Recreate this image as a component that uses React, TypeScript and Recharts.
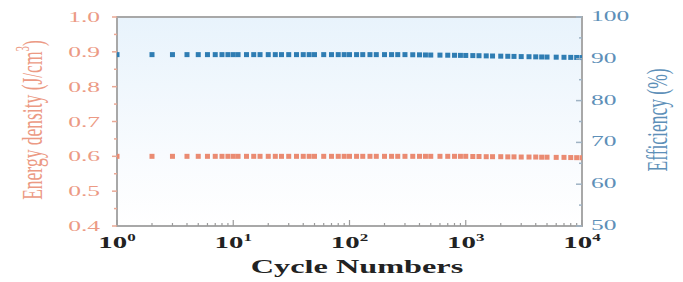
import { LineChart, Line, XAxis, YAxis, ReferenceArea } from 'recharts';

const cycles = [
  1, 2, 3, 4, 5, 6, 7, 8, 9, 10, 11, 13, 15, 17, 20, 23, 26, 30, 35, 40, 45, 50, 60, 70, 80, 90, 100, 115, 130, 150,
  170, 200, 230, 260, 300, 350, 400, 450, 500, 600, 700, 800, 900, 1000, 1150, 1300, 1500, 1700, 2000, 2300, 2600,
  3000, 3500, 4000, 4500, 5000, 6000, 7000, 8000, 9000, 10000,
];
const energyDensity = [
  0.6, 0.6, 0.6, 0.6, 0.6, 0.6, 0.6, 0.6, 0.6, 0.6, 0.6, 0.6, 0.6, 0.6, 0.6, 0.6, 0.6, 0.6, 0.6, 0.6, 0.6, 0.6,
  0.6, 0.6, 0.6, 0.6, 0.6, 0.6, 0.6, 0.6, 0.6, 0.6, 0.6, 0.6, 0.6, 0.6, 0.6, 0.6, 0.6, 0.6, 0.6, 0.6, 0.6, 0.6,
  0.5995, 0.5995, 0.599, 0.599, 0.599, 0.5985, 0.5985, 0.598, 0.598, 0.598, 0.5975, 0.5975, 0.597, 0.597, 0.5965,
  0.5962, 0.596,
];
const efficiency = [
  91, 91, 91, 91, 91, 91, 91, 91, 91, 91, 91, 91, 91, 91, 91, 91, 91, 91, 91, 91, 91, 91, 91, 91, 91, 91, 91, 91,
  91, 91, 91, 91, 91, 91, 91, 90.97, 90.95, 90.92, 90.9, 90.88, 90.86, 90.84, 90.82, 90.8, 90.77, 90.74, 90.7, 90.67,
  90.63, 90.6, 90.57, 90.53, 90.5, 90.47, 90.44, 90.42, 90.39, 90.36, 90.34, 90.32, 90.3,
];
const xTicks = [
  1, 2, 3, 4, 5, 6, 7, 8, 9, 10, 20, 30, 40, 50, 60, 70, 80, 90, 100, 200, 300, 400, 500, 600, 700, 800, 900, 1000,
  2000, 3000, 4000, 5000, 6000, 7000, 8000, 9000, 10000,
];
const energyTicks = [0.4, 0.45, 0.5, 0.55, 0.6, 0.65, 0.7, 0.75, 0.8, 0.85, 0.9, 0.95, 1.0];
const effTicks = [50, 55, 60, 65, 70, 75, 80, 85, 90, 95, 100];

const data = cycles.map((c, i) => ({ cycle: c, energy: energyDensity[i], eff: efficiency[i] }));

const ORANGE = '#ea8b72';
const BLUE = '#2f7db3';
const FONT = '"Liberation Serif", "Times New Roman", serif';
const SX = 1.7;

const SquareDot = (props: any) => {
  const { cx, cy, fill } = props;
  if (cx == null || cy == null) return null;
  return <rect x={cx - 2.5} y={cy - 2.5} width={5} height={5} fill={fill} />;
};

const LeftTick = (props: any) => {
  const { x, y, payload } = props;
  const v = payload.value;
  const major = Math.abs(v * 10 - Math.round(v * 10)) < 1e-6;
  return (
    <g>
      <line x1={x} x2={x - (major ? 5 : 3)} y1={y} y2={y} stroke="#e9a895" strokeWidth={1.5} />
      {major && (
        <g transform={`translate(${x - 17},${y}) scale(${SX},1)`}>
          <text x={0} y={0} textAnchor="end" dominantBaseline="central" fontFamily={FONT} fontSize={15} fill="#ec9a84">
            {v.toFixed(1)}
          </text>
        </g>
      )}
    </g>
  );
};

const RightTick = (props: any) => {
  const { x, y, payload } = props;
  const v = payload.value;
  const major = v % 10 === 0;
  return (
    <g>
      <line x1={x} x2={x - (major ? 6 : 3)} y1={y} y2={y} stroke="#9fb3c4" strokeWidth={1.5} />
      {major && (
        <g transform={`translate(${x + 9},${y - 1}) scale(${SX},1)`}>
          <text x={0} y={0} textAnchor="start" dominantBaseline="central" fontFamily={FONT} fontSize={15} fill="#5d8fb8">
            {v}
          </text>
        </g>
      )}
    </g>
  );
};

const XTick = (props: any) => {
  const { x, y, payload } = props;
  const v = payload.value;
  const exp = Math.round(Math.log10(v));
  const major = Math.abs(Math.pow(10, exp) - v) < 1e-6;
  return (
    <g>
      <line x1={x} x2={x} y1={y} y2={y - (major ? 6 : 3)} stroke="#9a9a9a" strokeWidth={1.2} />
      {major && (
        <g transform={`translate(${x},${y + 22}) scale(${SX},1)`}>
          <text x={0} y={0} textAnchor="middle" fontFamily={FONT} fontWeight="bold" fontSize={17} fill="#222">
            10
            <tspan fontSize={10} dy={-7}>
              {exp}
            </tspan>
          </text>
        </g>
      )}
    </g>
  );
};

const Titles = () => (
  <g fontFamily={FONT}>
    <g transform={`translate(32,120) scale(${SX},1) rotate(-90)`}>
      <text x={0} y={0} textAnchor="middle" dominantBaseline="central" fontSize={17.5} fill="#ec9a84">
        Energy density (J/cm<tspan fontSize={11} dy={-6}>3</tspan>
        <tspan dy={6}>)</tspan>
      </text>
    </g>
    <g transform={`translate(657,120) scale(${SX},1) rotate(-90)`}>
      <text x={0} y={0} textAnchor="middle" dominantBaseline="central" fontSize={17.5} fill="#5d8fb8">
        Efficiency (%)
      </text>
    </g>
    <g transform={`translate(357,273) scale(${SX},1)`}>
      <text x={0} y={0} textAnchor="middle" fontSize={19} fontWeight="bold" fill="#222">
        Cycle Numbers
      </text>
    </g>
  </g>
);

export default function App() {
  return (
    <div style={{ position: 'absolute', left: 0, top: 0, background: '#fff' }}>
      <LineChart width={683} height={282} data={data} margin={{ top: 17, right: 0, bottom: 0, left: 0 }}>
        <defs>
          <linearGradient id="bgFade" x1="0" y1="0" x2="0" y2="1">
            <stop offset="0%" stopColor="#e8f3fc" />
            <stop offset="65%" stopColor="#f8fbfe" />
            <stop offset="100%" stopColor="#ffffff" />
          </linearGradient>
        </defs>
        <XAxis
          dataKey="cycle"
          type="number"
          scale="log"
          domain={[1, 10000]}
          ticks={xTicks}
          interval={0}
          allowDataOverflow
          axisLine={false}
          tickLine={false}
          tickSize={0}
          tickMargin={0}
          height={56}
          tick={<XTick />}
        />
        <YAxis
          yAxisId="left"
          orientation="left"
          domain={[0.4, 1.0]}
          ticks={energyTicks}
          interval={0}
          width={117}
          axisLine={false}
          tickLine={false}
          tickSize={0}
          tickMargin={0}
          tick={<LeftTick />}
        />
        <YAxis
          yAxisId="right"
          orientation="right"
          domain={[50, 100]}
          ticks={effTicks}
          interval={0}
          width={101}
          axisLine={false}
          tickLine={false}
          tickSize={0}
          tickMargin={0}
          tick={<RightTick />}
        />
        <ReferenceArea
          yAxisId="left"
          x1={1}
          x2={10000}
          y1={0.4}
          y2={1.0}
          fill="url(#bgFade)"
          fillOpacity={1}
          stroke="#a8a8a8"
          strokeWidth={2}
        />
        <Line
          yAxisId="right"
          dataKey="eff"
          stroke="none"
          dot={<SquareDot fill={BLUE} />}
          activeDot={false}
          isAnimationActive={false}
        />
        <Line
          yAxisId="left"
          dataKey="energy"
          stroke="none"
          dot={<SquareDot fill={ORANGE} />}
          activeDot={false}
          isAnimationActive={false}
        />
        <Titles />
      </LineChart>
    </div>
  );
}
